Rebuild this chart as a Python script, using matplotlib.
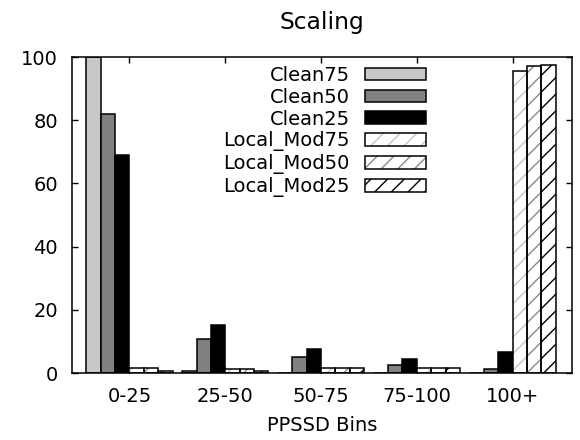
import matplotlib
matplotlib.use("Agg")
import matplotlib.pyplot as plt
from matplotlib.patches import Patch
from matplotlib.legend_handler import HandlerTuple
import numpy as np

categories = ["0-25", "25-50", "50-75", "75-100", "100+"]
series_names = ["Clean75", "Clean50", "Clean25", "Local_Mod75", "Local_Mod50", "Local_Mod25"]
clean75 = [100, 0.7, 0, 0, 0]
clean50 = [82, 10.8, 5.0, 2.5, 1.3]
clean25 = [69, 15.2, 7.6, 4.4, 6.8]
local_mod75 = [1.5, 1.3, 1.5, 1.5, 95.7]
local_mod50 = [1.5, 1.3, 1.5, 1.5, 97.0]
local_mod25 = [0.7, 0.7, 1.5, 1.5, 97.5]
yticks = [0, 20, 40, 60, 80, 100]

plt.rcParams["font.family"] = ["DejaVu Sans"]
plt.rcParams["font.size"] = 14
plt.rcParams["hatch.linewidth"] = 1.0

fig = plt.figure(figsize=(5.8, 4.4), dpi=100)
ax = fig.add_axes([72/580, 67/440, 500/580, 316/440])

x = np.arange(len(categories))
w = 0.15
solid = [("#c8c8c8", clean75), ("#808080", clean50), ("#000000", clean25)]
hatched = [("#c4c4c4", local_mod75), ("#8a8a8a", local_mod50), ("#000000", local_mod25)]
lw = 1.1
handles = []
for j, (col, vals) in enumerate(solid):
    ax.bar(x + (j - 3) * w, vals, w, align="edge", color=col, edgecolor="black", linewidth=lw, zorder=2)
    handles.append(Patch(facecolor=col, edgecolor="black", linewidth=lw))
for k, (hc, vals) in enumerate(hatched):
    j = k + 3
    ax.bar(x + (j - 3) * w, vals, w, align="edge", color="white", edgecolor=hc, hatch="//", linewidth=0, zorder=2)
    ax.bar(x + (j - 3) * w, vals, w, align="edge", fill=False, edgecolor="black", linewidth=lw, zorder=3)
    handles.append((Patch(facecolor="white", edgecolor=hc, hatch="//", linewidth=0),
                    Patch(fill=False, edgecolor="black", linewidth=lw)))

ax.set_xlim(-0.6, 4.62)
ax.set_ylim(0, 100)
ax.set_xticks(x)
ax.set_xticklabels(categories)
ax.set_yticks(yticks)
ax.tick_params(axis="both", direction="in", length=4.5, width=1.0, top=True, right=True)
ax.tick_params(axis="x", pad=10)
ax.tick_params(axis="y", pad=10)
for s in ax.spines.values():
    s.set_linewidth(1.1)
ax.set_title("Scaling", pad=20)
ax.set_xlabel("PPSSD Bins", labelpad=7)

leg = ax.legend(handles, series_names, handler_map={tuple: HandlerTuple(ndivide=1)},
                loc="upper right", bbox_to_anchor=(0.708, 0.9725), frameon=False,
                markerfirst=False, borderpad=0, labelspacing=0.15, handlelength=3.14,
                handleheight=0.6, handletextpad=0.77, borderaxespad=0)
leg.set_zorder(5)

fig.savefig("out.png", dpi=100)
